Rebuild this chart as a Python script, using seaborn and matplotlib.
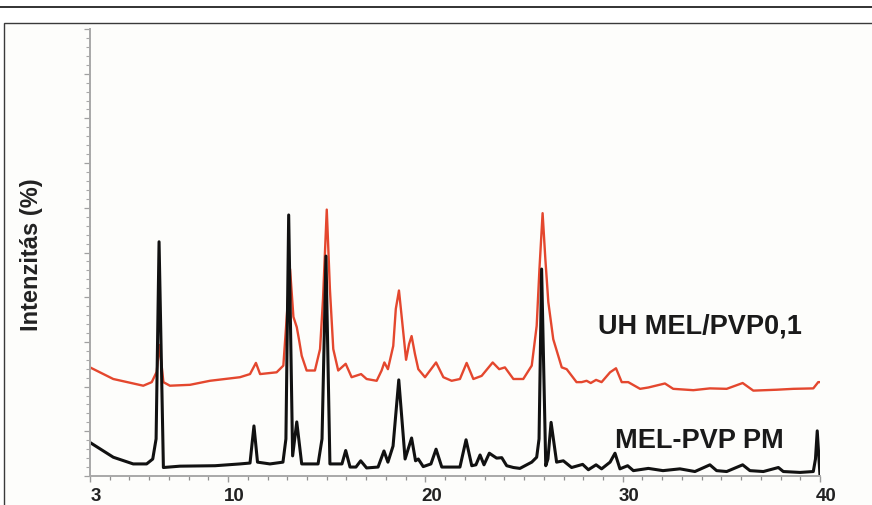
import numpy as np
import pandas as pd
import matplotlib
matplotlib.use("Agg")
import matplotlib.pyplot as plt
import seaborn as sns
from matplotlib.ticker import MultipleLocator, FixedLocator, NullFormatter
from matplotlib.transforms import ScaledTranslation
from matplotlib.patches import Rectangle
from matplotlib.lines import Line2D

# ---- data (2theta in degrees, intensity in %) ----
two_theta_pm = [3.00, 4.18, 5.19, 5.87, 6.18, 6.35, 6.50, 6.72, 7.56, 9.34, 10.60, 11.11, 11.31, 11.49,
                12.12, 12.78, 12.93, 13.07, 13.27, 13.48, 13.73, 14.56, 14.76, 14.96, 15.16, 15.77,
                15.96, 16.18, 16.48, 16.72, 17.02, 17.60, 17.90, 18.10, 18.36, 18.65, 18.97, 19.30,
                19.50, 19.64, 19.89, 20.28, 20.54, 20.83, 21.75, 22.06, 22.35, 22.56, 22.77, 22.97,
                23.24, 23.44, 23.61, 23.87, 24.12, 24.46, 24.79, 25.39, 25.64, 25.76, 25.89, 26.10,
                26.21, 26.37, 26.65, 26.99, 27.41, 27.97, 28.26, 28.65, 28.93, 29.36, 29.61, 29.86,
                30.25, 30.54, 31.30, 32.04, 32.90, 33.66, 34.42, 34.76, 35.27, 36.08, 36.45, 37.13,
                37.89, 38.14, 38.99, 39.66, 39.77, 39.86, 40.00]
intensity_pm = [7.5, 4.2, 2.7, 2.7, 3.8, 8.3, 52.4, 1.9, 2.2, 2.3, 2.7, 2.9, 11.2, 3.1,
                2.7, 3.1, 8.3, 58.4, 4.5, 12.1, 2.7, 2.7, 8.3, 49.2, 2.7, 2.7,
                5.7, 2.0, 2.0, 3.4, 1.8, 2.0, 5.6, 3.1, 6.7, 21.5, 3.8, 8.5,
                3.4, 3.8, 2.1, 2.7, 6.0, 2.0, 2.0, 8.1, 2.3, 2.5, 4.7, 2.5,
                5.1, 4.5, 4.0, 4.1, 2.3, 1.9, 1.7, 3.1, 4.2, 8.3, 46.3, 2.3,
                3.8, 12.0, 3.1, 3.4, 1.9, 2.6, 1.4, 2.5, 1.6, 3.1, 5.1, 1.6,
                2.3, 1.2, 1.7, 1.2, 1.6, 1.0, 2.5, 1.2, 1.0, 2.5, 1.2, 1.0,
                1.9, 1.0, 0.8, 1.0, 3.8, 10.1, 0.1]

two_theta_uh = [3.00, 4.18, 5.70, 6.13, 6.38, 6.52, 6.72, 7.05, 8.07, 9.08, 10.60, 11.11, 11.41, 11.62,
                12.46, 12.80, 12.93, 13.14, 13.31, 13.48, 13.59, 13.73, 13.98, 14.40, 14.66, 14.81,
                15.00, 15.16, 15.33, 15.58, 15.96, 16.26, 16.74, 17.02, 17.53, 17.78, 17.92, 18.10,
                18.37, 18.50, 18.66, 18.81, 19.02, 19.17, 19.30, 19.47, 19.64, 19.98, 20.54, 20.91,
                21.33, 21.75, 22.09, 22.43, 22.85, 23.41, 23.74, 24.03, 24.46, 24.96, 25.39, 25.64,
                25.78, 25.94, 26.08, 26.23, 26.48, 26.91, 27.16, 27.66, 27.92, 28.17, 28.38, 28.65,
                28.93, 29.36, 29.66, 29.95, 30.28, 30.88, 31.30, 32.14, 32.56, 33.58, 34.42, 35.27,
                36.08, 36.62, 37.80, 38.65, 39.66, 39.91, 40.00]
intensity_uh = [24.3, 21.7, 20.2, 21.0, 23.3, 29.3, 21.0, 20.2, 20.4, 21.3, 22.1, 22.8, 25.3, 22.8,
                23.2, 24.7, 32.9, 46.3, 35.6, 33.3, 30.6, 26.9, 23.6, 23.6, 28.4, 39.6,
                59.6, 41.8, 28.4, 23.6, 25.1, 22.1, 22.8, 21.7, 21.3, 23.6, 25.4, 23.9,
                29.1, 37.4, 41.5, 35.1, 26.0, 29.5, 31.3, 27.3, 23.9, 22.1, 25.4, 22.1,
                21.3, 21.7, 25.3, 21.7, 22.4, 25.4, 23.9, 24.3, 21.7, 21.7, 24.7, 33.6,
                46.3, 58.8, 48.5, 38.9, 30.6, 24.3, 23.9, 21.0, 21.0, 21.3, 20.8, 21.5,
                21.0, 23.2, 24.1, 21.0, 21.0, 19.5, 19.8, 20.7, 19.5, 19.2, 19.6, 19.5,
                20.8, 19.1, 19.3, 19.5, 19.6, 21.0, 21.0]

series_labels = ["MEL-PVP PM", "UH MEL/PVP0,1"]
x_ticks = [3, 10, 20, 30, 40]
y_label = "Intenzitás (%)"

df = pd.concat([
    pd.DataFrame({"x": two_theta_uh, "y": intensity_uh, "s": series_labels[1]}),
    pd.DataFrame({"x": two_theta_pm, "y": intensity_pm, "s": series_labels[0]}),
], ignore_index=True)

sns.set_style("white")
plt.rcParams['font.family'] = ['Liberation Sans', 'DejaVu Sans']
plt.rcParams['xtick.minor.visible'] = True
plt.rcParams['ytick.minor.visible'] = True

W, H = 872, 506
fig = plt.figure(figsize=(W / 100, H / 100), dpi=100, facecolor='white')

# decorative frame like the source document
fig.add_artist(Line2D([0, 1], [1 - 7.5 / H, 1 - 7.5 / H], transform=fig.transFigure,
                      color='#222222', lw=1.3))
fig.add_artist(Rectangle((4 / W, -0.02), 1.05, (H - 23.5) / H + 0.02, transform=fig.transFigure,
                         fill=True, facecolor='#fdfdfb', edgecolor='#3a3a3a', lw=1.0, zorder=0))

ax = fig.add_axes([90 / W, 29 / H, 730 / W, 447 / H])
ax.set_facecolor('none')

palette = {series_labels[1]: '#e4472e', series_labels[0]: '#111111'}
sns.lineplot(data=df[df.s == series_labels[1]], x="x", y="y", color=palette[series_labels[1]],
             sort=False, estimator=None, lw=1.7, ax=ax)
sns.lineplot(data=df[df.s == series_labels[0]], x="x", y="y", color=palette[series_labels[0]],
             sort=False, estimator=None, lw=2.2, ax=ax)

ax.set_xlim(3, 40)
ax.set_ylim(0, 100)

for side in ['top', 'right']:
    ax.spines[side].set_visible(False)
for side in ['left', 'bottom']:
    ax.spines[side].set_color('#a8a8a8')
    ax.spines[side].set_linewidth(1.4)

ax.xaxis.set_major_locator(FixedLocator(x_ticks))
ax.xaxis.set_minor_locator(MultipleLocator(1))
ax.set_xticklabels([str(t) for t in x_ticks])
ax.yaxis.set_major_locator(MultipleLocator(10))
ax.yaxis.set_minor_locator(MultipleLocator(2))
ax.yaxis.set_major_formatter(NullFormatter())
ax.minorticks_on()
ax.xaxis.set_minor_locator(MultipleLocator(1))
ax.yaxis.set_minor_locator(MultipleLocator(2))

ax.tick_params(axis='x', which='major', direction='out', length=4, width=1.0, color='#9a9a9a',
               pad=4, labelsize=13.5, labelcolor='#222222', bottom=True, top=False)
ax.tick_params(axis='x', which='minor', direction='out', length=3, width=0.9, color='#8f8f8f',
               bottom=True, top=False)
ax.tick_params(axis='y', which='major', direction='out', length=4, width=0.9, color='#a0a0a0',
               left=True, right=False)
ax.tick_params(axis='y', which='minor', direction='out', length=3, width=0.8, color='#a8a8a8',
               left=True, right=False)

offset = ScaledTranslation(6 / 100, 0, fig.dpi_scale_trans)
for lab in ax.get_xticklabels():
    lab.set_fontweight('bold')
    lab.set_transform(lab.get_transform() + offset)

ax.set_xlabel("")
ax.set_ylabel(y_label, fontsize=17, fontweight='bold', color='#222222')
ax.yaxis.set_label_coords((43 - 90) / 730, (477 - 255) / 447)

ax.text((598 - 90) / 730, (477 - 333) / 447, series_labels[1], transform=ax.transAxes,
        ha='left', va='baseline', fontsize=19.5, fontweight='bold', color='#1a1a1a')
ax.text((615 - 90) / 730, (477 - 448) / 447, series_labels[0], transform=ax.transAxes,
        ha='left', va='baseline', fontsize=19.5, fontweight='bold', color='#1a1a1a')

fig.savefig("out.png", dpi=100, facecolor='white')
